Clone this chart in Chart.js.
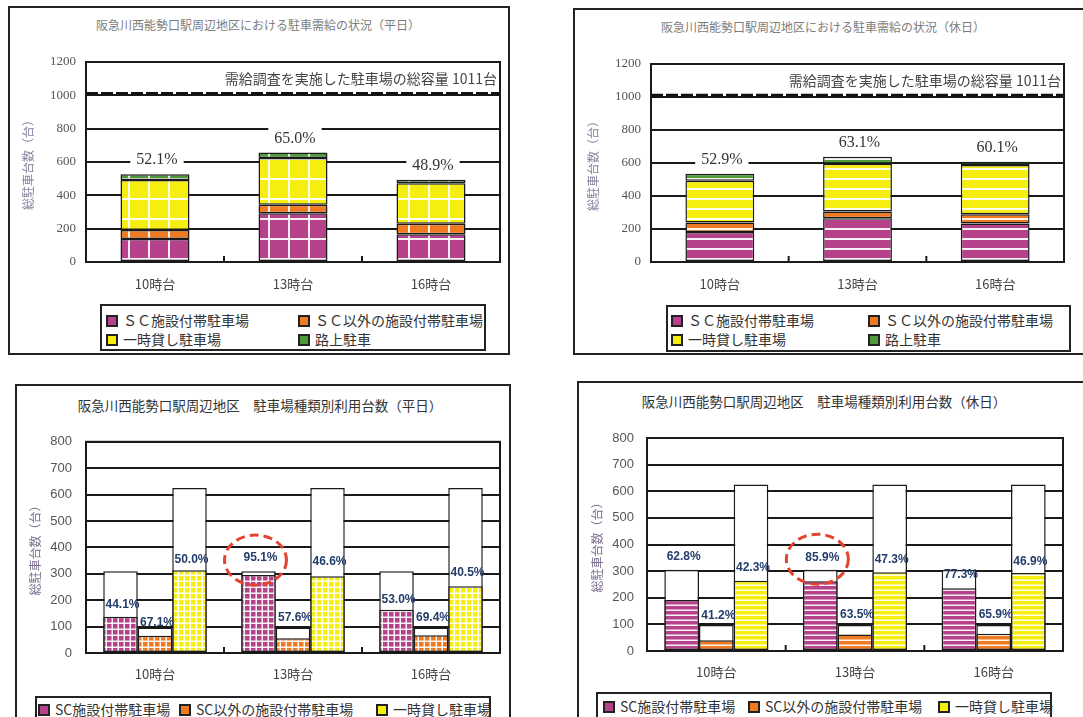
<!DOCTYPE html>
<html lang="ja">
<head>
<meta charset="utf-8">
<title>阪急川西能勢口駅周辺地区 駐車場調査</title>
<script src="https://cdn.jsdelivr.net/npm/chart.js@4.4.1/dist/chart.umd.min.js"></script>
<style>
  body { margin: 0; background: #fff; width: 1083px; height: 717px; overflow: hidden; position: relative;
         font-family: "Noto Sans CJK JP", sans-serif; }
  .frame { position: absolute; border: 2px solid #222; box-sizing: border-box; }
  .title { position: absolute; text-align: center; white-space: nowrap; }
  canvas { position: absolute; }
  .legend { position: absolute; border: 2px solid #222; box-sizing: border-box; background: #fff; }
  .legend span.item { position: absolute; white-space: nowrap; line-height: 18px; }
  .legend i { display: inline-block; width: 8px; height: 8px; border: 2px solid #222; margin-right: 5px; vertical-align: -1px; }
</style>
</head>
<body>

<div class="frame" style="left:8px;top:6px;width:502px;height:349px"></div>
<div class="frame" style="left:573px;top:8px;width:530px;height:347px"></div>
<div class="frame" style="left:15px;top:384px;width:496px;height:400px"></div>
<div class="frame" style="left:577px;top:381px;width:530px;height:400px"></div>

<div class="title" style="left:8px;top:16px;width:500px;font-size:12px;color:#7d7d7d">阪急川西能勢口駅周辺地区における駐車需給の状況（平日）</div>
<div class="title" style="left:573px;top:18px;width:500px;font-size:12px;color:#7d7d7d">阪急川西能勢口駅周辺地区における駐車需給の状況（休日）</div>
<div class="title" style="left:15px;top:395px;width:490px;font-size:13.5px;color:#333">阪急川西能勢口駅周辺地区　駐車場種類別利用台数（平日）</div>
<div class="title" style="left:579px;top:391px;width:490px;font-size:13.5px;color:#333">阪急川西能勢口駅周辺地区　駐車場種類別利用台数（休日）</div>

<canvas id="wdSupply" width="497" height="260" style="left:10px;top:40px"></canvas>
<canvas id="hdSupply" width="508" height="260" style="left:575px;top:40px"></canvas>
<canvas id="wdUsage" width="491" height="272" style="left:17px;top:420px"></canvas>
<canvas id="hdUsage" width="504" height="272" style="left:579px;top:416px"></canvas>

<div class="legend" id="wdSupplyLegend" style="left:100px;top:304px;width:386px;height:47px"></div>
<div class="legend" id="hdSupplyLegend" style="left:666px;top:305px;width:405px;height:47px"></div>
<div class="legend" id="wdUsageLegend" style="left:35px;top:696px;width:456px;height:40px"></div>
<div class="legend" id="hdUsageLegend" style="left:596px;top:692px;width:456px;height:40px"></div>

<script>
// time bands on the x axis
const hours = ['10時台', '13時台', '16時台'];

// total capacity of the surveyed car parks
const totalCapacity = 1011;

// parked cars by type, weekday (台)
const wdSc = [138, 292, 166];
const wdOther = [54, 52, 64];
const wdCoin = [300, 280, 242];
const wdStreet = [35, 33, 22];

// parked cars by type, holiday (台)
const hdSc = [182, 265, 233];
const hdOther = [57, 41, 57];
const hdCoin = [254, 290, 298];
const hdStreet = [42, 42, 20];

// capacity and usage rate (%) per car park type, weekday
const wdScCap = [310, 310, 310];
const wdScRate = [44.1, 95.1, 53.0];
const wdOtherCap = [97, 97, 97];
const wdOtherRate = [67.1, 57.6, 69.4];
const wdCoinCap = [625, 625, 625];
const wdCoinRate = [50.0, 46.6, 40.5];

// capacity and usage rate (%) per car park type, holiday
const hdScCap = [305, 305, 305];
const hdScRate = [62.8, 85.9, 77.3];
const hdOtherCap = [98, 98, 98];
const hdOtherRate = [41.2, 63.5, 65.9];
const hdCoinCap = [625, 625, 625];
const hdCoinRate = [42.3, 47.3, 46.9];

const supplyTicks = [0, 200, 400, 600, 800, 1000, 1200];
const usageTicks = [0, 100, 200, 300, 400, 500, 600, 700, 800];

const supplyNames = ['ＳＣ施設付帯駐車場', 'ＳＣ以外の施設付帯駐車場', '一時貸し駐車場', '路上駐車'];
const usageNames = ['SC施設付帯駐車場', 'SC以外の施設付帯駐車場', '一時貸し駐車場'];

const colors = ['#b6428c', '#ee7a22', '#f6ee10', '#4f9b3a'];
const highlight = 1; // 13時台 SC bar gets the red ring

// how far above each used bar its rate label sits (px)
const wdLift = [[12, 17, 10], [13, 21, 18], [11, 14, 14]];
const hdLift = [[43, 24, 13], [25, 20, 19], [13, 13, 11]];

Chart.defaults.font.family = '"Noto Sans CJK JP", sans-serif';
Chart.defaults.color = '#444';

function hatch(color, kind, cell, line) {
    const c = document.createElement('canvas');
    c.width = cell; c.height = cell;
    const g = c.getContext('2d');
    g.fillStyle = color;
    g.fillRect(0, 0, cell, cell);
    g.fillStyle = 'rgba(255,255,255,0.92)';
    g.fillRect(0, cell - line, cell, line);
    if (kind === 'grid') g.fillRect(cell - line, 0, line, cell);
    return g.createPattern(c, 'repeat');
}

// plot frame + short ticks between categories
const plotFrame = {
    id: 'plotFrame',
    afterDatasetsDraw(chart) {
        const { ctx, chartArea: a, scales: { x } } = chart;
        ctx.save();
        ctx.strokeStyle = '#1a1a1a';
        ctx.lineWidth = 2;
        ctx.strokeRect(a.left, a.top, a.right - a.left, a.bottom - a.top);
        for (let i = 1; i < hours.length; i++) {
            const bx = (x.getPixelForValue(i - 1) + x.getPixelForValue(i)) / 2;
            ctx.beginPath();
            ctx.moveTo(bx, a.bottom);
            ctx.lineTo(bx, a.bottom - 6);
            ctx.stroke();
        }
        ctx.restore();
    }
};

// dashed total-capacity line with its caption
const capacityLine = {
    id: 'capacityLine',
    beforeDatasetsDraw(chart) {
        const { ctx, chartArea: a, scales: { y } } = chart;
        const yy = y.getPixelForValue(totalCapacity);
        ctx.save();
        ctx.strokeStyle = '#111';
        ctx.lineWidth = 3;
        ctx.setLineDash([12, 3]);
        ctx.beginPath();
        ctx.moveTo(a.left, yy);
        ctx.lineTo(a.right, yy);
        ctx.stroke();
        ctx.font = '14px "Noto Sans CJK JP"';
        ctx.fillStyle = '#444';
        ctx.textAlign = 'right';
        ctx.textBaseline = 'middle';
        ctx.fillText('需給調査を実施した駐車場の総容量 ' + totalCapacity + '台', a.right - 3, (a.top + yy) / 2 + 1);
        ctx.restore();
    }
};

// occupancy of all surveyed spaces above each stack
const totalLabels = {
    id: 'totalLabels',
    afterDatasetsDraw(chart) {
        const { ctx, scales: { x, y } } = chart;
        ctx.save();
        ctx.font = '16px "Liberation Serif"';
        ctx.textAlign = 'center';
        ctx.textBaseline = 'middle';
        hours.forEach((h, i) => {
            const total = chart.data.datasets.reduce((s, d) => s + d.data[i], 0);
            const text = (total / totalCapacity * 100).toFixed(1) + '%';
            const px = x.getPixelForValue(i) + 2;
            const py = y.getPixelForValue(total) - 14;
            const w = ctx.measureText(text).width + 12;
            ctx.fillStyle = '#fff';
            ctx.fillRect(px - w / 2, py - 11, w, 21);
            ctx.fillStyle = '#333';
            ctx.fillText(text, px, py);
        });
        ctx.restore();
    }
};

function supplyChart(id, series, kind, cell, pad) {
    new Chart(document.getElementById(id), {
        type: 'bar',
        data: {
            labels: hours,
            datasets: series.map((d, k) => ({
                label: supplyNames[k],
                data: d,
                backgroundColor: hatch(colors[k], kind, cell, 2),
                borderColor: '#1a1a1a',
                borderWidth: 1.5,
                borderSkipped: false
            }))
        },
        options: {
            responsive: false,
            animation: false,
            layout: { padding: pad },
            plugins: { legend: { display: false }, tooltip: { enabled: false } },
            datasets: { bar: { barPercentage: 1, categoryPercentage: 0.5 } },
            scales: {
                x: {
                    stacked: true,
                    grid: { display: false },
                    border: { display: false },
                    ticks: { padding: 6, font: { size: 13 }, color: '#444' },
                    afterFit: s => { s.height = 38; }
                },
                y: {
                    stacked: true,
                    min: 0,
                    max: 1200,
                    afterBuildTicks: s => { s.ticks = supplyTicks.map(v => ({ value: v })); },
                    grid: { color: '#1a1a1a', lineWidth: 2, drawTicks: false },
                    border: { display: false },
                    ticks: { padding: 10, font: { family: '"Liberation Serif"', size: 13 }, color: '#555', callback: v => String(v) },
                    title: { display: true, text: '総駐車台数（台）', font: { size: 12 }, color: '#8a80a0', padding: { top: 5, bottom: 0 } },
                    afterFit: s => { s.width = 70; }
                }
            }
        },
        plugins: [capacityLine, totalLabels, plotFrame]
    });
}

function usageChart(id, caps, rates, lifts, kind, cell, pad, yw, xh) {
    const used = caps.map((c, k) => c.map((v, i) => Math.round(v * rates[k][i] / 100)));
    const stacks = ['sc', 'other', 'coin'];
    const datasets = [];
    used.forEach((d, k) => datasets.push({
        label: usageNames[k], data: d, stack: stacks[k], order: 0,
        backgroundColor: hatch(colors[k], kind, cell, 1.5)
    }));
    caps.forEach((d, k) => datasets.push({
        label: usageNames[k] + ' 容量', data: d, stack: stacks[k], order: 1,
        backgroundColor: '#fff'
    }));

    // rate labels and the ring around the highlighted one
    const rateLabels = {
        id: 'rateLabels',
        afterDatasetsDraw(chart) {
            const ctx = chart.ctx;
            ctx.save();
            ctx.font = 'bold 12px "Liberation Sans"';
            ctx.fillStyle = '#233d6b';
            ctx.textAlign = 'center';
            ctx.textBaseline = 'middle';
            rates.forEach((r, k) => {
                const bars = chart.getDatasetMeta(k).data;
                r.forEach((v, i) => {
                    const lx = bars[i].x + 2;
                    const ly = bars[i].y - lifts[k][i];
                    ctx.fillText(v.toFixed(1) + '%', lx, ly);
                    if (k === 0 && i === highlight) {
                        ctx.save();
                        ctx.strokeStyle = '#e4442e';
                        ctx.lineWidth = 3;
                        ctx.setLineDash([9, 5]);
                        ctx.beginPath();
                        ctx.ellipse(lx - 5, ly + 2, 31, 25, 0, 0, Math.PI * 2);
                        ctx.stroke();
                        ctx.restore();
                    }
                });
            });
            ctx.restore();
        }
    };

    new Chart(document.getElementById(id), {
        type: 'bar',
        data: { labels: hours, datasets },
        options: {
            responsive: false,
            animation: false,
            layout: { padding: pad },
            plugins: { legend: { display: false }, tooltip: { enabled: false } },
            datasets: { bar: { barPercentage: 1, categoryPercentage: 0.75, borderColor: '#1a1a1a', borderWidth: 1.5, borderSkipped: false } },
            scales: {
                x: {
                    grid: { display: false },
                    border: { display: false },
                    ticks: { padding: 5, font: { size: 13 }, color: '#444' },
                    afterFit: s => { s.height = xh; }
                },
                y: {
                    stacked: false,
                    min: 0,
                    max: 800,
                    afterBuildTicks: s => { s.ticks = usageTicks.map(v => ({ value: v })); },
                    grid: { color: '#1a1a1a', lineWidth: 2, drawTicks: false },
                    border: { display: false },
                    ticks: { padding: yw - 50, font: { family: '"Liberation Sans"', size: 13 }, color: '#555' },
                    title: { display: true, text: '総駐車台数（台）', font: { size: 12 }, color: '#7b6e8e', padding: { top: 6, bottom: 0 } },
                    afterFit: s => { s.width = yw; }
                }
            }
        },
        plugins: [rateLabels, plotFrame]
    });
}

function legend(id, names, cols, rows, font) {
    const box = document.getElementById(id);
    names.forEach((n, k) => {
        const s = document.createElement('span');
        s.className = 'item';
        s.style.left = cols[k] + 'px';
        s.style.top = rows[k] + 'px';
        s.style.fontSize = font + 'px';
        s.style.color = '#333';
        s.innerHTML = '<i style="background:' + colors[k] + '"></i>' + n;
        box.appendChild(s);
    });
}

supplyChart('wdSupply', [wdSc, wdOther, wdCoin, wdStreet], 'grid', 20,
    { left: 6, right: 7, top: 22, bottom: 0 });
supplyChart('hdSupply', [hdSc, hdOther, hdCoin, hdStreet], 'stripe', 10,
    { left: 6, right: 19, top: 24, bottom: 0 });

usageChart('wdUsage', [wdScCap, wdOtherCap, wdCoinCap], [wdScRate, wdOtherRate, wdCoinRate], wdLift,
    'grid', 6, { left: 5, right: 8, top: 21, bottom: 0 }, 64, 39);
usageChart('hdUsage', [hdScCap, hdOtherCap, hdCoinCap], [hdScRate, hdOtherRate, hdCoinRate], hdLift,
    'stripe', 5, { left: 5, right: 20, top: 22, bottom: 0 }, 63, 37);

legend('wdSupplyLegend', supplyNames, [4, 196, 4, 196], [5, 5, 24, 24], 14);
legend('hdSupplyLegend', supplyNames, [3, 200, 3, 200], [4, 4, 23, 23], 14);
legend('wdUsageLegend', usageNames, [1, 142, 339], [2, 2, 2], 14);
legend('hdUsageLegend', usageNames, [5, 150, 340], [3, 3, 3], 14);
</script>
</body>
</html>
